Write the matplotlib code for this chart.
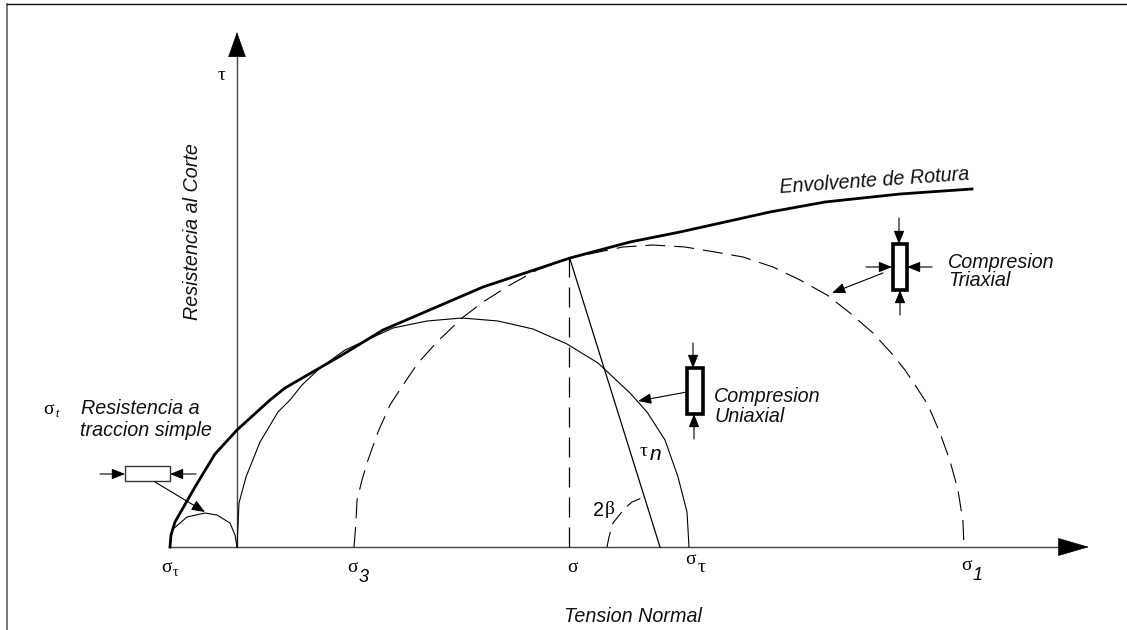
import matplotlib
matplotlib.use('Agg')
import matplotlib.pyplot as plt
from matplotlib.patches import Rectangle

# Puntos (x, y en pixeles de la imagen)
envolvente_x = [170, 171, 175, 195, 215, 237, 270, 285, 342, 383, 483, 570, 630, 680, 770, 825, 900, 972]
envolvente_y = [547, 535, 522, 487, 454, 430, 400, 388, 355, 330, 287, 258, 242, 232, 212, 202, 194, 189]

uniaxial_x = [237, 239, 246, 260, 278, 290, 302, 320, 345, 393, 427, 462, 498, 533, 567, 598, 630, 647, 665, 678, 687, 689]
uniaxial_y = [547, 503, 477, 442, 412, 400, 385, 368, 350, 328, 321, 318, 321, 329, 344, 363, 393, 412, 440, 477, 512, 547]

triaxial_x = [354, 356, 357, 362, 368, 378, 390, 401, 418, 437, 462, 483, 510, 537, 570, 623, 653, 685,
              715, 743, 773, 800, 827, 850, 873, 893, 905, 917, 928, 940, 950, 958, 963, 964]
triaxial_y = [547, 522, 500, 480, 460, 432, 405, 388, 363, 342, 318, 302, 285, 270, 258, 247, 245, 247,
              252, 257, 267, 280, 295, 313, 333, 355, 370, 388, 405, 433, 461, 490, 522, 547]

traccion_x = [170, 172, 187, 205, 217, 230, 235, 237]
traccion_y = [547, 530, 517, 513, 515, 523, 535, 547]

angulo_x = [607, 609, 613, 625, 632, 644]
angulo_y = [547, 537, 523, 508, 502, 497]

# Muestras: x, y, ancho, alto, grosor
muestras = [(687, 368, 16, 46, 2.6), (893, 244, 14, 46, 2.6), (125, 466, 45, 15, 1.0)]

# Flechas pequenas: origen y punta
flechas = [((693, 343), (693, 368)), ((694, 439), (694, 414)), ((687, 392), (638, 401)),
           ((899, 218), (899, 244)), ((900, 315), (900, 290)), ((866, 267), (892, 267)),
           ((932, 267), (907, 267)), ((883, 273), (832, 293)),
           ((100, 474), (125, 474)), ((196, 474), (170, 474)), ((155, 482), (205, 512))]

plt.rcParams['font.family'] = ['Liberation Sans', 'DejaVu Sans']
SIMBOLO = ['Liberation Serif', 'DejaVu Serif']

fig = plt.figure(figsize=(11.27, 6.30), dpi=100)
ax = fig.add_axes([0, 0, 1, 1])
ax.set_xlim(0, 1127)
ax.set_ylim(630, 0)
ax.axis('off')

# Marco
ax.plot([7, 7], [630, 4], color='#555555', lw=1.1)
ax.plot([7, 1127], [4, 4], color='#111111', lw=1.0)

# Ejes
ax.plot([170, 1062], [547, 547], color='#444444', lw=1.0)
ax.plot([237, 237], [547, 54], color='#444444', lw=1.0)
ax.annotate('', xy=(1089, 547), xytext=(1058, 547), arrowprops=dict(
    arrowstyle='-|>,head_length=21,head_width=6.1', mutation_scale=1, color='black',
    shrinkA=0, shrinkB=0, lw=0.5))
ax.annotate('', xy=(237, 32), xytext=(237, 57), arrowprops=dict(
    arrowstyle='-|>,head_length=17,head_width=6', mutation_scale=1, color='black',
    shrinkA=0, shrinkB=0, lw=0.5))

# Curvas
ax.plot(envolvente_x, envolvente_y, color='black', lw=2.0, solid_joinstyle='round')
ax.plot(uniaxial_x, uniaxial_y, color='black', lw=0.8)
ax.plot(traccion_x, traccion_y, color='black', lw=0.8)
ax.plot(triaxial_x, triaxial_y, color='black', lw=0.8, dashes=(18, 8))
ax.plot([569, 569], [547, 259], color='black', lw=0.9, dashes=(16, 8))
ax.plot([570, 660], [259, 547], color='black', lw=0.9)
ax.plot(angulo_x, angulo_y, color='black', lw=0.8, dashes=(14, 7))

for x, y, w, h, g in muestras:
    ax.add_patch(Rectangle((x, y), w, h, fill=False, edgecolor='black' if g > 1 else '#333333', lw=g))

for origen, punta in flechas:
    ax.annotate('', xy=punta, xytext=origen, arrowprops=dict(
        arrowstyle='-|>,head_length=8,head_width=3.2', mutation_scale=1, color='black',
        shrinkA=0, shrinkB=0, lw=0.8))

# Textos
estilo = dict(style='italic', fontsize=14.2, color='#111111')
ax.text(633, 616, 'Tension Normal', ha='center', va='center', **estilo)
ax.text(193, 320, 'Resistencia al Corte', rotation=90, ha='center', va='bottom', **estilo)
ax.text(874, 181, 'Envolvente de Rotura', rotation=4, ha='center', va='center',
        rotation_mode='anchor', **estilo)
ax.text(81, 408, 'Resistencia a', ha='left', va='center', **estilo)
ax.text(80, 430, 'traccion simple', ha='left', va='center', **estilo)
ax.text(714, 397, 'Compresion', ha='left', va='center', **estilo)
ax.text(715, 416, 'Uniaxial', ha='left', va='center', **estilo)
ax.text(948, 263, 'Compresion', ha='left', va='center', **estilo)
ax.text(948, 281, 'Triaxial', ha='left', va='center', **estilo)

ax.text(222, 75, '\u03c4', family=SIMBOLO, fontsize=14, ha='center', va='center')
ax.text(48, 410, '\u03c3', family=SIMBOLO, fontsize=14, ha='center', va='center')
ax.text(55, 414, 't', style='italic', fontsize=8, ha='left', va='center')
ax.text(167, 567, '\u03c3', family=SIMBOLO, fontsize=14, ha='center', va='center')
ax.text(175, 573, '\u03c4', family=SIMBOLO, fontsize=10, ha='center', va='center')
ax.text(353, 567, '\u03c3', family=SIMBOLO, fontsize=14, ha='center', va='center')
ax.text(359, 577, '3', style='italic', fontsize=13, ha='left', va='center')
ax.text(572, 568, '\u03c3', family=SIMBOLO, fontsize=14, ha='center', va='center')
ax.text(691, 560, '\u03c3', family=SIMBOLO, fontsize=14, ha='center', va='center')
ax.text(702, 568, '\u03c4', family=SIMBOLO, fontsize=14, ha='center', va='center')
ax.text(967, 566, '\u03c3', family=SIMBOLO, fontsize=14, ha='center', va='center')
ax.text(973, 575, '1', style='italic', fontsize=13, ha='left', va='center')
ax.text(644, 452, '\u03c4', family=SIMBOLO, fontsize=14, ha='center', va='center')
ax.text(655, 455, 'n', style='italic', fontsize=15, ha='center', va='center')
ax.text(593, 510, '2', fontsize=14.2, ha='left', va='center')
ax.text(605, 510, '\u03b2', family=SIMBOLO, fontsize=14, ha='left', va='center')

fig.savefig('out.png', dpi=100)
